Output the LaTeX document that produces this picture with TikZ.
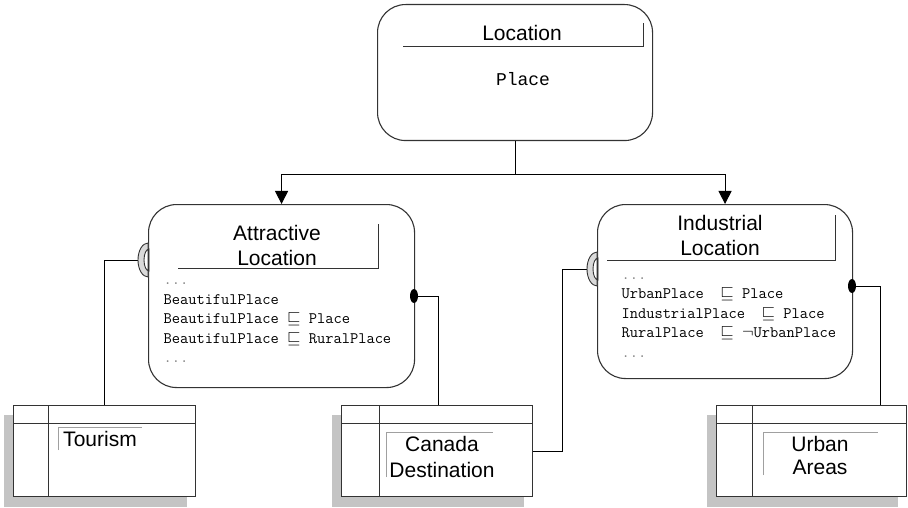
\documentclass[tikz,border=0pt]{standalone}
\usepackage{fontspec}
\newfontfamily\arialf{Liberation Sans}
\newfontfamily\courf{Liberation Mono}
\usetikzlibrary{arrows.meta,backgrounds,calc}
\definecolor{linec}{HTML}{333333}
\definecolor{shadowc}{HTML}{C4C4C4}
\definecolor{framec}{HTML}{A0A0A0}
\definecolor{sockc}{HTML}{DADADA}
\begin{document}
\begin{tikzpicture}[x=1pt,y=-1pt,line width=1.1pt,
  box/.style={draw=linec,fill=white,rounded corners=28pt,inner sep=0pt,anchor=north west},
  tbl/.style={draw=linec,fill=white,inner sep=0pt,anchor=north west,minimum height=91pt},
  sans/.style={font=\arialf\fontsize{21}{25}\selectfont,align=center,inner sep=0pt},
  body/.style={font=\ttfamily\fontsize{16}{19.5}\selectfont,align=left,anchor=west,inner sep=0pt},
  arr/.style={-{Triangle[length=13pt,width=13pt]},draw=black},
  conn/.style={draw=black,line width=1pt},
  tline/.style={draw=linec,line width=0.8pt},
  fline/.style={draw=framec,line width=0.9pt}]
\useasboundingbox (0,0) rectangle (908,508);

% class boxes
\node[box,minimum width=275pt,minimum height=136pt] (loc) at (377,4) {};
\node[box,minimum width=266pt,minimum height=183pt] (attr) at (148,204) {};
\node[box,minimum width=255pt,minimum height=174pt] (ind) at (597,204) {};

% tables
\node[tbl,minimum width=182pt] (tour) at (13,405) {};
\node[tbl,minimum width=191pt] (can) at (341,405) {};
\node[tbl,minimum width=190pt] (urb) at (716,405) {};

\begin{scope}[on background layer]
  \foreach \t in {tour,can,urb}
    \fill[shadowc] ($(\t.north west)+(-9,10)$) rectangle ($(\t.south east)+(-9,10)$);
\end{scope}

% table grid lines
\draw[tline,line width=1pt] ($(tour.north west)+(0,18)$) -- ($(tour.north east)+(0,18)$);
\draw[tline,line width=1pt] ($(tour.north west)+(35,0)$) -- ($(tour.south west)+(35,0)$);
\draw[tline,line width=1pt] ($(can.north west)+(0,18)$) -- ($(can.north east)+(0,18)$);
\draw[tline,line width=1pt] ($(can.north west)+(38,0)$) -- ($(can.south west)+(38,0)$);
\draw[tline,line width=1pt] ($(urb.north west)+(0,18)$) -- ($(urb.north east)+(0,18)$);
\draw[tline,line width=1pt] ($(urb.north west)+(36,0)$) -- ($(urb.south west)+(36,0)$);

% table text frames
\draw[fline] (58,450) -- (58,427) -- (142,427);
\draw[fline] (386,477) -- (386,432) -- (493,432);
\draw[fline] (763,475) -- (763,432) -- (878,432);

% title frames in class boxes
\draw[tline] (403,46) -- (643,46) -- (643,23);
\draw[tline] (178,268) -- (378,268) -- (378,224);
\draw[tline] (607,260) -- (835,260) -- (835,215);

% texts
\node[sans] (tLoc) at (522,33) {Location};
\node[font=\courf\fontsize{18}{20}\selectfont,inner sep=0pt] (tPlace) at (523,79) {Place};
\node[sans] (tAttr) at (277,245.5) {Attractive\\Location};
\node[sans] (tInd) at (720,235.5) {Industrial\\Location};
\node[sans] (tTour) at (100,439) {Tourism};
\node[sans,font=\arialf\fontsize{21}{26}\selectfont] (tCan) at (442,457) {Canada\\Destination};
\node[sans,font=\arialf\fontsize{21}{23}\selectfont] (tUrb) at (820,455.5) {Urban\\Areas};

\node[body] (bAttr) at (163,323) {{\color{gray}...}\\BeautifulPlace\\BeautifulPlace $\sqsubseteq$ Place\\BeautifulPlace $\sqsubseteq$ RuralPlace\\{\color{gray}...}};
\node[body] (bInd) at (621,317.5) {{\color{gray}...}\\UrbanPlace \ $\sqsubseteq$ Place\\IndustrialPlace \ $\sqsubseteq$ Place\\RuralPlace \ $\sqsubseteq$ $\neg$UrbanPlace\\{\color{gray}...}};

% generalisation arrows
\coordinate (j) at ($(loc.south)+(0,33)$);
\draw[conn] (loc.south) -- (j);
\draw[conn,arr] (j) -| (attr.north);
\draw[conn,arr] (j) -| (ind.north);

% sockets (required interfaces)
\coordinate (sA) at (138,260);
\coordinate (sB) at (587,269);
\draw[conn] (tour.north) |- (sA);
\coordinate (k1) at (562,269);
\draw[conn] (can.east) -| (k1) -- (sB);
\foreach \x/\y in {148/260,597/269}{
  \filldraw[fill=sockc,draw=linec,line width=0.9pt,even odd rule]
    (\x,\y-17) arc[start angle=90,end angle=270,x radius=10pt,y radius=17pt] -- cycle
    (\x+1,\y-11) arc[start angle=90,end angle=270,x radius=5pt,y radius=11pt] -- cycle;
}

% balls (provided interfaces)
\coordinate (bA) at (414,296);
\coordinate (cTop) at (438,405);
\draw[conn] (bA) -| (cTop);
\coordinate (bB) at (852,286);
\coordinate (uTop) at (880,405);
\draw[conn] (bB) -| (uTop);
\fill[black] (bA) ellipse [x radius=4pt,y radius=7pt];
\fill[black] (bB) ellipse [x radius=4pt,y radius=7pt];
\end{tikzpicture}
\end{document}
